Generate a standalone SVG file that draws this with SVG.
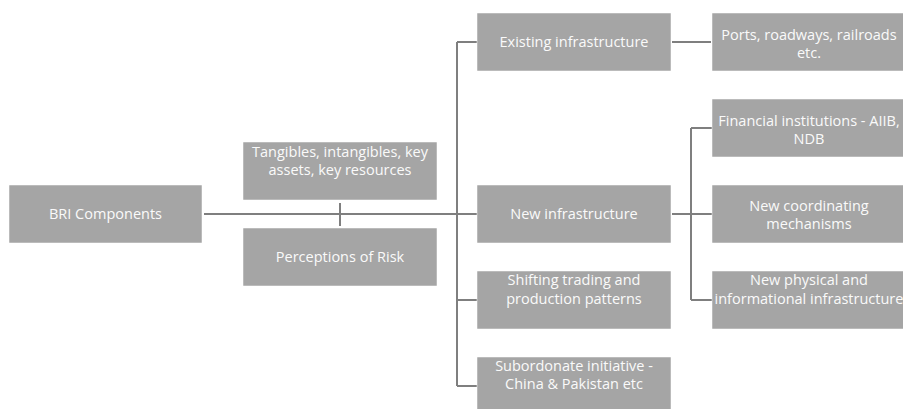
<svg xmlns="http://www.w3.org/2000/svg" width="903" height="409" viewBox="0 0 903 409">
<style>
.box{fill:#a5a5a5;stroke:#ffffff;stroke-width:0.5}
.t{font-family:"Open Sans","Liberation Sans",sans-serif;font-size:14.5px;fill:#fafafa;text-anchor:middle}
.c{stroke:#7f7f7f;stroke-width:2;fill:none}
</style>
<rect x="0" y="0" width="903" height="409" fill="#ffffff"/>
<g id="connectors">
<path class="c" d="M204 214H477"/>
<path class="c" d="M340 203V226"/>
<path class="c" d="M457 42V386"/>
<path class="c" d="M457 42H477M457 300H477M457 386H477"/>
<path class="c" d="M672 42H711"/>
<path class="c" d="M672 214H712"/>
<path class="c" d="M691 128V300M691 128H712M691 300H712"/>
</g>
<g id="bri"><rect class="box" x="9" y="185" width="193" height="58"/><text class="t" x="105.5" y="219">BRI Components</text></g>
<g id="tangibles"><rect class="box" x="243" y="142" width="194" height="58"/><text class="t" x="340" y="156.5">Tangibles, intangibles, key</text><text class="t" x="340" y="175">assets, key resources</text></g>
<g id="perceptions"><rect class="box" x="243" y="228" width="194" height="58"/><text class="t" x="340" y="261.5">Perceptions of Risk</text></g>
<g id="existing"><rect class="box" x="477" y="13" width="194" height="58"/><text class="t" x="574" y="46.5">Existing infrastructure</text></g>
<g id="newinfra"><rect class="box" x="477" y="185" width="194" height="58"/><text class="t" x="574" y="219">New infrastructure</text></g>
<g id="shifting"><rect class="box" x="477" y="271" width="194" height="58"/><text class="t" x="574" y="285">Shifting trading and</text><text class="t" x="574" y="304">production patterns</text></g>
<g id="subordonate"><rect class="box" x="477" y="357" width="194" height="58"/><text class="t" x="574" y="370.5">Subordonate initiative -</text><text class="t" x="574" y="389">China &amp; Pakistan etc</text></g>
<g id="ports"><rect class="box" x="712" y="13" width="194" height="58"/><text class="t" x="809" y="39.5">Ports, roadways, railroads</text><text class="t" x="809" y="58">etc.</text></g>
<g id="financial"><rect class="box" x="712" y="99" width="194" height="58"/><text class="t" x="809" y="126">Financial institutions - AIIB,</text><text class="t" x="809" y="144">NDB</text></g>
<g id="coordinating"><rect class="box" x="712" y="185" width="194" height="58"/><text class="t" x="809" y="210.5">New coordinating</text><text class="t" x="809" y="228.5">mechanisms</text></g>
<g id="physical"><rect class="box" x="712" y="271" width="194" height="58"/><text class="t" x="809" y="285">New physical and</text><text class="t" x="809" y="303.5">informational infrastructure</text></g>
</svg>
